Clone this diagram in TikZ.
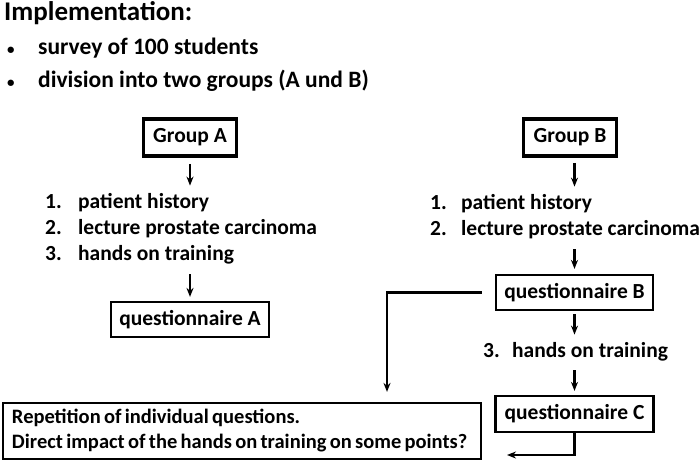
\documentclass[tikz,border=0pt]{standalone}
\usepackage{fontspec}
\setmainfont{Carlito}
\usetikzlibrary{arrows.meta}
\newcommand{\tightspace}{\spaceskip=3.3pt\relax}
\tikzset{
	box/.style={draw, line width=2.2pt, inner sep=0pt, minimum height=35pt},
	groupbox/.style={box, line width=3.8pt, minimum width=93pt, minimum height=37pt},
	arr/.style={-{Stealth[length=9pt,width=7pt]}, line width=2.2pt},
	body/.style={inner sep=0pt, font=\fontsize{21.5}{26}\selectfont\bfseries}
}
\begin{document}
\begin{tikzpicture}[x=1pt,y=-1pt]
	\useasboundingbox (0,0) rectangle (700,462);
	% heading and bullets
	\node (Impl) at (4,21) [anchor=base west, inner sep=0pt, font=\fontsize{27}{30}\selectfont\bfseries] {Implementation:};
	\node (Bullets) at (7,55) [anchor=base west, inner sep=0pt, font=\fontsize{23.5}{33}\selectfont\bfseries]
		{\begin{tabular}[t]{@{}p{31pt}@{}l@{}}
			{\fontsize{15}{15}\selectfont\textbullet} & survey of 100 students\\
			{\fontsize{15}{15}\selectfont\textbullet} & division into two groups (A und B)
		\end{tabular}};
	% group A
	\node (GroupA) at (190,137.5) [groupbox, body] {Group A};
	\node (ListA) at (45,208) [anchor=base west, body]
		{\begin{tabular}[t]{@{}p{33pt}@{}l@{}}
			1. & patient history\\
			2. & lecture prostate carcinoma\\
			3. & hands on training
		\end{tabular}};
	\node (QuestA) at (190,319.5) [box, minimum width=158pt, body] {questionnaire A};
	% group B
	\node (GroupB) at (570,137.5) [groupbox, body] {Group B};
	\node (ListB) at (430,209) [anchor=base west, body]
		{\begin{tabular}[t]{@{}p{31pt}@{}l@{}}
			1. & patient history\\
			2. & lecture prostate carcinoma
		\end{tabular}};
	\node (QuestB) at (574.5,292.5) [box, minimum width=157pt, body] {questionnaire B};
	\node (Train) at (483,357) [anchor=base west, body]
		{\begin{tabular}[t]{@{}p{29pt}@{}l@{}}
			3. & hands on training
		\end{tabular}};
	\node (QuestC) at (574.5,414) [box, minimum width=158pt, minimum height=36pt, body] {questionnaire C};
	\node (Rep) at (242,431) [box, minimum width=478pt, minimum height=56pt, inner xsep=9pt, align=left, text width=460pt,
		font=\fontsize{20.5}{25}\selectfont\bfseries]
		{\tightspace Repetition of individual questions.\\Direct impact of the hands on training on some points?};
	\coordinate (Corner) at (387,291);
	\coordinate (Back) at (507,455);
	% connectors
	\draw[arr, shorten <=6pt, shorten >=4pt] (GroupA.south) -- (GroupA |- ListA.north);
	\draw[arr, shorten <=6pt, shorten >=4pt] (QuestA |- ListA.south) -- (QuestA.north);
	\draw[arr, shorten <=5pt, shorten >=4pt] (GroupB.south -| QuestB) -- (QuestB |- ListB.north);
	\draw[arr, shorten <=6pt, shorten >=5pt] (QuestB |- ListB.south) -- (QuestB.north);
	\draw[arr, shorten <=3pt, shorten >=4pt] (QuestB.south) -- (QuestB |- Train.north);
	\draw[arr, shorten <=5pt, shorten >=4pt] (QuestB |- Train.south) -- (QuestC.north);
	\draw[arr, shorten <=13pt, shorten >=10pt] (QuestB.west) -| (Corner |- Rep.north);
	\draw[arr] (QuestC.south) |- (Back);
\end{tikzpicture}
\end{document}
